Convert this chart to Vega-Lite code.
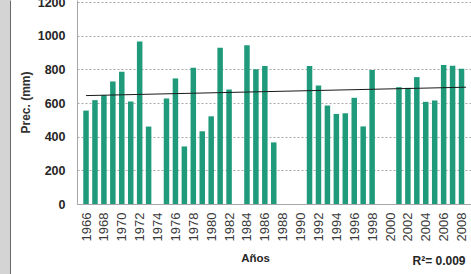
{
  "$schema": "https://vega.github.io/schema/vega-lite/v6.json",
  "autosize": "none",
  "padding": {"left": 0, "top": 0, "right": 471, "bottom": 274},
  "background": "white",
  "config": {"view": {"stroke": null}, "font": "Liberation Sans"},
  "datasets": {
    "prec": [
      {"year": 1966, "mm": 555}, {"year": 1967, "mm": 617}, {"year": 1968, "mm": 647},
      {"year": 1969, "mm": 728}, {"year": 1970, "mm": 786}, {"year": 1971, "mm": 609},
      {"year": 1972, "mm": 965}, {"year": 1973, "mm": 460}, {"year": 1975, "mm": 627},
      {"year": 1976, "mm": 746}, {"year": 1977, "mm": 342}, {"year": 1978, "mm": 810},
      {"year": 1979, "mm": 432}, {"year": 1980, "mm": 521}, {"year": 1981, "mm": 929},
      {"year": 1982, "mm": 680}, {"year": 1984, "mm": 943}, {"year": 1985, "mm": 800},
      {"year": 1986, "mm": 820}, {"year": 1987, "mm": 366}, {"year": 1991, "mm": 820},
      {"year": 1992, "mm": 704}, {"year": 1993, "mm": 585}, {"year": 1994, "mm": 535},
      {"year": 1995, "mm": 539}, {"year": 1996, "mm": 631}, {"year": 1997, "mm": 461},
      {"year": 1998, "mm": 796}, {"year": 2001, "mm": 694}, {"year": 2002, "mm": 690},
      {"year": 2003, "mm": 754}, {"year": 2004, "mm": 607}, {"year": 2005, "mm": 615},
      {"year": 2006, "mm": 826}, {"year": 2007, "mm": 822}, {"year": 2008, "mm": 804}
    ],
    "trend": [
      {"year": 1966, "mm": 644}, {"year": 2008.5, "mm": 694}
    ],
    "frame": [{"v": 0}]
  },
  "hconcat": [
    {
      "width": 10,
      "height": 274,
      "view": {"fill": "#d4d4d4", "stroke": null},
      "data": {"name": "frame"},
      "mark": {"type": "text", "text": " "},
      "encoding": {
        "y": {"field": "v", "type": "quantitative", "scale": {"domain": [0, 1]},
          "axis": {"orient": "right", "labels": false, "ticks": false, "grid": false, "title": null, "domainColor": "#6a6a6a", "domainWidth": 1}}
      }
    },
    {
      "width": 394,
      "height": 204,
      "layer": [
        {
          "data": {"name": "prec"},
          "mark": {"type": "bar", "width": 5.5, "color": "#1f9b7b"},
          "encoding": {
            "x": {"field": "year", "type": "quantitative",
              "scale": {"domain": [1965.55, 2008.5], "nice": false, "zero": false},
              "axis": {
                "values": [1966,1968,1970,1972,1974,1976,1978,1980,1982,1984,1986,1988,1990,1992,1994,1996,1998,2000,2002,2004,2006,2008],
                "tickCount": 50,
                "format": "d", "labelAngle": -90, "labelFontSize": 13, "labelColor": "#3a3a3a",
                "labelPadding": 8, "ticks": false, "grid": false, "domainColor": "#a6a6a6",
                "labelOverlap": false, "labelFlush": false,
                "title": "Años", "titleFontSize": 11.5, "titleFontWeight": "bold", "titleColor": "#262626",
                "titleX": 178, "titleY": 48
              }
            },
            "y": {"field": "mm", "type": "quantitative",
              "scale": {"domain": [0, 1212], "nice": false},
              "axis": {
                "values": [0,200,400,600,800,1000,1200], "format": "d", "tickCount": 20,
                "labelFontSize": 12.5, "labelFontWeight": "bold", "labelColor": "#262626",
                "labelPadding": 12, "ticks": false, "domainColor": "#a6a6a6",
                "labelOverlap": false, "labelFlush": false,
                "gridColor": "#a8a8a8", "gridDash": [2, 2],
                "title": "Prec. (mm)", "titleFontSize": 12, "titleFontWeight": "bold", "titleColor": "#333333",
                "titlePadding": 5
              }
            }
          }
        },
        {
          "data": {"name": "trend"},
          "mark": {"type": "line", "color": "#1a1a1a", "strokeWidth": 1},
          "encoding": {
            "x": {"field": "year", "type": "quantitative"},
            "y": {"field": "mm", "type": "quantitative"}
          }
        },
        {
          "data": {"values": [{"label": "R²= 0.009"}]},
          "mark": {"type": "text", "align": "right", "baseline": "middle", "fontSize": 12, "fontWeight": "bold", "color": "#262626"},
          "encoding": {
            "text": {"field": "label"},
            "x": {"datum": 2008.45},
            "y": {"datum": -339}
          }
        }
      ]
    }
  ],
  "spacing": 67,
  "bounds": "flush"
}
